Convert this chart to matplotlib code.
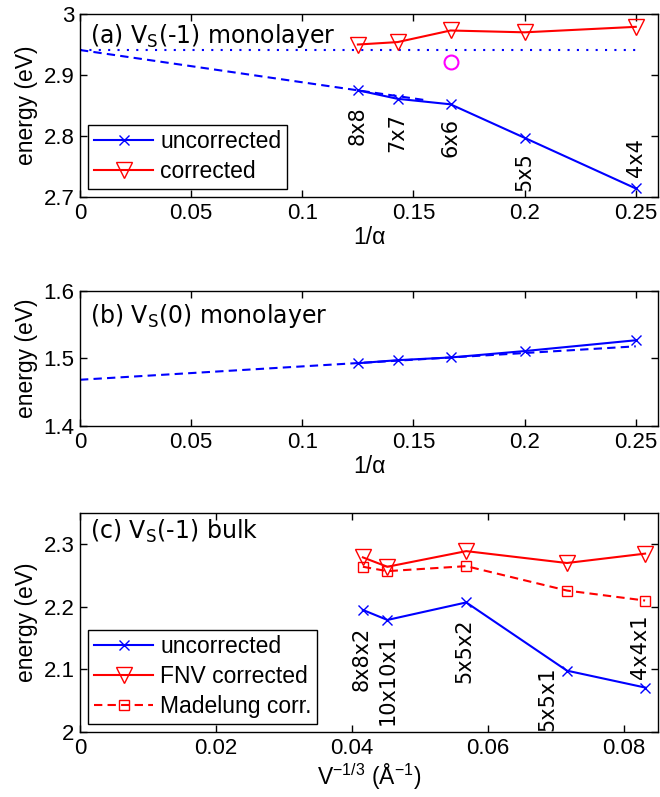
import matplotlib.pyplot as plt

plt.rcParams['font.family'] = 'Liberation Sans'
plt.rcParams['mathtext.fontset'] = 'dejavusans'
plt.rcParams['mathtext.default'] = 'regular'

# monolayer supercells, x = 1/alpha
mono_x = [1/8, 1/7, 1/6, 1/5, 1/4]
mono_labels = ['8x8', '7x7', '6x6', '5x5', '4x4']

# (a) VS(-1) monolayer
a_uncorr = [2.875, 2.861, 2.852, 2.797, 2.714]
a_corr = [2.950, 2.954, 2.973, 2.970, 2.979]
a_label_top = [2.848, 2.837, 2.829, 2.774, 2.796]
a_fit_x = [0, 0.155]
a_fit_y = [2.941, 2.859]
a_limit_x = [0, 0.25]
a_limit_y = [2.9415, 2.9415]
a_circle_x = [1/6]
a_circle_y = [2.921]
a_xticks = [0, 0.05, 0.1, 0.15, 0.2, 0.25]
a_xticklabels = ['0', '0.05', '0.1', '0.15', '0.2', '0.25']
a_yticks = [2.7, 2.8, 2.9, 3.0]
a_yticklabels = ['2.7', '2.8', '2.9', '3']

# (b) VS(0) monolayer
b_uncorr = [1.493, 1.4975, 1.5015, 1.511, 1.527]
b_fit_x = [0, 0.25]
b_fit_y = [1.4685, 1.518]
b_yticks = [1.4, 1.5, 1.6]
b_yticklabels = ['1.4', '1.5', '1.6']

# (c) VS(-1) bulk, x = V^-1/3
c_x = [0.0416, 0.0452, 0.0568, 0.0716, 0.0831]
c_uncorr = [2.195, 2.179, 2.207, 2.098, 2.071]
c_fnv = [2.279, 2.264, 2.289, 2.270, 2.285]
c_mad = [2.264, 2.257, 2.265, 2.226, 2.210]
c_labels = ['8x8x2', '10x10x1', '5x5x2', '5x5x1', '4x4x1']
c_label_x = [0.0414, 0.0452, 0.0565, 0.0688, 0.0824]
c_label_top = [2.168, 2.157, 2.181, 2.104, 2.187]
c_xticks = [0, 0.02, 0.04, 0.06, 0.08]
c_xticklabels = ['0', '0.02', '0.04', '0.06', '0.08']
c_yticks = [2.0, 2.1, 2.2, 2.3]
c_yticklabels = ['2', '2.1', '2.2', '2.3']

fig = plt.figure(figsize=(6.6, 7.97), dpi=100)
ax_a = fig.add_axes([0.1212, 0.7528, 0.8758, 0.2296])
ax_b = fig.add_axes([0.1212, 0.4655, 0.8758, 0.1694])
ax_c = fig.add_axes([0.1212, 0.0816, 0.8758, 0.2748])

def style_axes(ax):
    ax.tick_params(direction='in', top=True, right=True, length=5, width=1,
                   labelsize=16, pad=4)
    for s in ax.spines.values():
        s.set_linewidth(1.0)

def legend_box(ax):
    leg = ax.legend(loc='lower left', fontsize=16.5, fancybox=False,
                    edgecolor='black', framealpha=1, borderaxespad=0.35,
                    handlelength=2.6, handletextpad=0.3, labelspacing=0.3,
                    borderpad=0.25)
    leg.get_frame().set_linewidth(1.0)

dash = (0, (4, 2.5))

# panel a
ax_a.plot(a_fit_x, a_fit_y, color='blue', lw=1.5, linestyle=dash)
ax_a.plot(a_limit_x, a_limit_y, color='blue', lw=1.5, linestyle=(0, (1, 3.5)))
ax_a.plot(mono_x, a_uncorr, color='blue', lw=1.5, marker='x', ms=7,
          mew=1, label='uncorrected')
ax_a.plot(mono_x, a_corr, color='red', lw=1.5, marker='v', ms=11,
          mfc='none', mew=1, label='corrected')
ax_a.plot(a_circle_x, a_circle_y, linestyle='none', marker='o', ms=10,
          mfc='none', mec='magenta', mew=1.5)
for x, y, t in zip(mono_x, a_label_top, mono_labels):
    ax_a.text(x, y, t, rotation=90, ha='center', va='top', fontsize=15,
              family='DejaVu Sans')
ax_a.set_xlim(0, 0.26)
ax_a.set_ylim(2.7, 3.0)
ax_a.set_xticks(a_xticks)
ax_a.set_xticklabels(a_xticklabels)
ax_a.set_yticks(a_yticks)
ax_a.set_yticklabels(a_yticklabels)
ax_a.set_xlabel('1/α', fontsize=16.5, labelpad=2)
ax_a.set_ylabel('energy (eV)', fontsize=16.5, labelpad=4)
ax_a.text(0.018, 0.955, '(a) V$_S$(-1) monolayer', transform=ax_a.transAxes,
          ha='left', va='top', fontsize=17, family='DejaVu Sans')
style_axes(ax_a)
legend_box(ax_a)

# panel b
ax_b.plot(b_fit_x, b_fit_y, color='blue', lw=1.5, linestyle=dash)
ax_b.plot(mono_x, b_uncorr, color='blue', lw=1.5, marker='x', ms=7, mew=1)
ax_b.set_xlim(0, 0.26)
ax_b.set_ylim(1.4, 1.6)
ax_b.set_xticks(a_xticks)
ax_b.set_xticklabels(a_xticklabels)
ax_b.set_yticks(b_yticks)
ax_b.set_yticklabels(b_yticklabels)
ax_b.set_xlabel('1/α', fontsize=16.5, labelpad=2)
ax_b.set_ylabel('energy (eV)', fontsize=16.5, labelpad=4)
ax_b.text(0.018, 0.92, '(b) V$_S$(0) monolayer', transform=ax_b.transAxes,
          ha='left', va='top', fontsize=17, family='DejaVu Sans')
style_axes(ax_b)

# panel c
ax_c.plot(c_x, c_uncorr, color='blue', lw=1.5, marker='x', ms=7, mew=1,
          label='uncorrected')
ax_c.plot(c_x, c_fnv, color='red', lw=1.5, marker='v', ms=11, mfc='none',
          mew=1, label='FNV corrected')
ax_c.plot(c_x, c_mad, color='red', lw=1.5, linestyle=dash, marker='s', ms=7,
          mfc='none', mew=1, label='Madelung corr.')
for x, y, t in zip(c_label_x, c_label_top, c_labels):
    ax_c.text(x, y, t, rotation=90, ha='center', va='top', fontsize=15,
              family='DejaVu Sans')
ax_c.set_xlim(0, 0.085)
ax_c.set_ylim(2.0, 2.35)
ax_c.set_xticks(c_xticks)
ax_c.set_xticklabels(c_xticklabels)
ax_c.set_yticks(c_yticks)
ax_c.set_yticklabels(c_yticklabels)
ax_c.set_xlabel('V$^{-1/3}$ (Å$^{-1}$)', fontsize=16.5, labelpad=2)
ax_c.set_ylabel('energy (eV)', fontsize=16.5, labelpad=4)
ax_c.text(0.018, 0.98, '(c) V$_S$(-1) bulk', transform=ax_c.transAxes,
          ha='left', va='top', fontsize=17, family='DejaVu Sans')
style_axes(ax_c)
legend_box(ax_c)

fig.savefig('out.png', dpi=100)
